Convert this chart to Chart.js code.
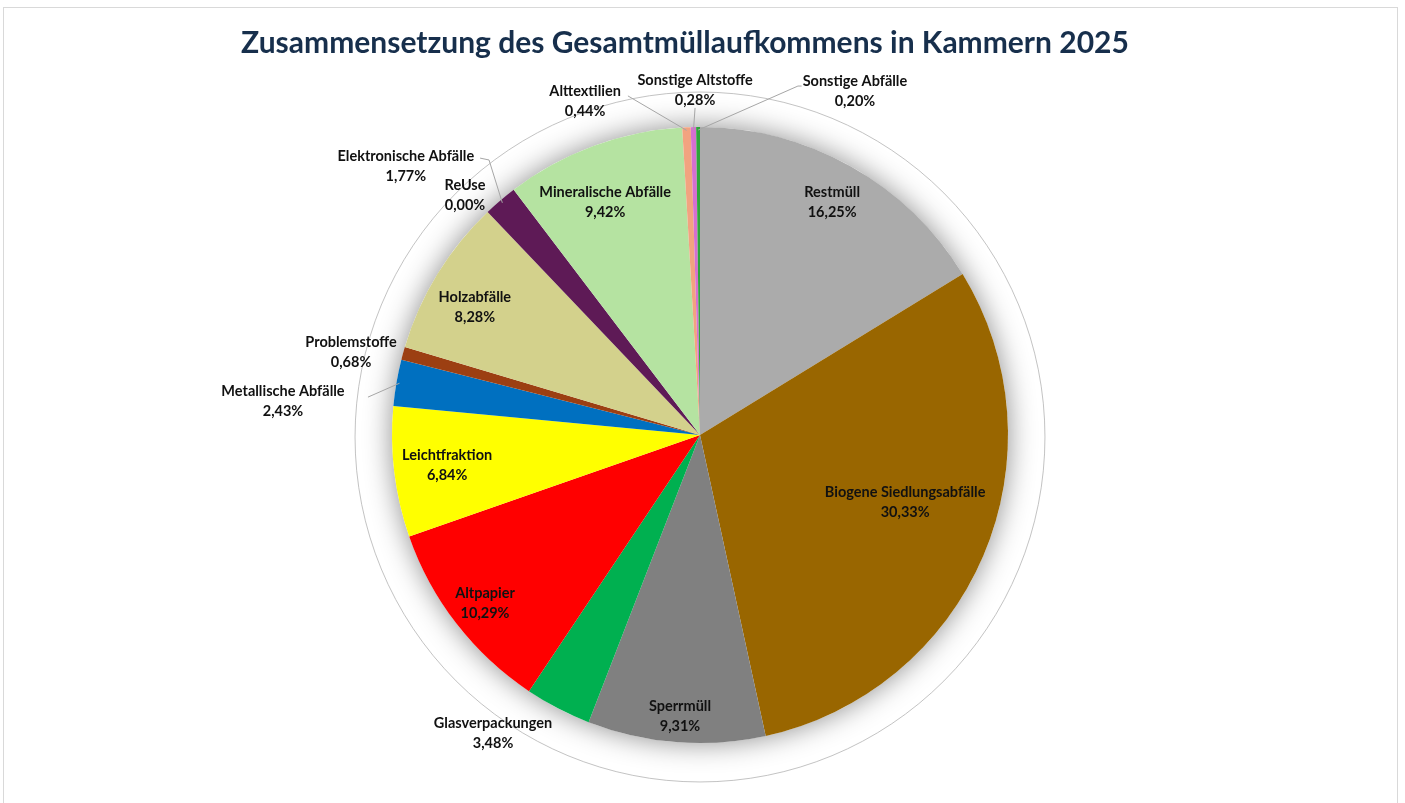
<!DOCTYPE html>
<html>
<head>
<meta charset="utf-8">
<script src="https://cdn.jsdelivr.net/npm/chart.js@4"></script>
<style>
  html, body { margin: 0; padding: 0; background: #ffffff; }
  #wrap { width: 1405px; height: 803px; position: relative; }
</style>
</head>
<body>
<div id="wrap"><canvas id="c" width="1405" height="803"></canvas></div>
<script>
// ---- data ----
const titleText = "Zusammensetzung des Gesamtmüllaufkommens in Kammern 2025";
const categories = [
  "Restmüll", "Biogene Siedlungsabfälle", "Sperrmüll", "Glasverpackungen",
  "Altpapier", "Leichtfraktion", "Metallische Abfälle", "Problemstoffe",
  "Holzabfälle", "ReUse", "Elektronische Abfälle", "Mineralische Abfälle",
  "Alttextilien", "Sonstige Altstoffe", "Sonstige Abfälle"
];
const shares = [16.25, 30.33, 9.31, 3.48, 10.29, 6.84, 2.43, 0.68, 8.28, 0.00, 1.77, 9.42, 0.44, 0.28, 0.20];
const colors = [
  "#ABABAB", "#996600", "#808080", "#00B050",
  "#FF0000", "#FFFF00", "#0070C0", "#9C3F12",
  "#D3D18C", "#7F7F7F", "#5E1A56", "#B5E3A1",
  "#F2A380", "#D56FD0", "#2EA43A"
];

// ---- label layout (relative to pie centre, in units of radius) ----
const labelAnchors = [
  [0.429, -0.756], [0.666, 0.218], [-0.065, 0.912], [-0.672, 0.968],
  [-0.698, 0.545], [-0.821, 0.097], [-1.354, -0.110], [-1.133, -0.269],
  [-0.731, -0.416], [-0.763, -0.779], [-0.955, -0.873], [-0.308, -0.756],
  [-0.373, -1.084], [-0.016, -1.120], [0.503, -1.117]
];
// leader line points (relative units)
const leaders = {
  6: [[-1.078, -0.123]],
  10: [[-0.714, -0.899], [-0.685, -0.893]],
  12: [[-0.234, -1.101]],
  13: [[-0.016, -1.062]],
  14: [[0.330, -1.133], [0.318, -1.133]]
};

function fmt(v) { return v.toFixed(2).replace('.', ',') + '%'; }

const decoPlugin = {
  id: 'deco',
  beforeDraw(chart) {
    const ctx = chart.ctx;
    ctx.save();
    ctx.fillStyle = '#ffffff';
    ctx.fillRect(0, 0, chart.width, chart.height);
    ctx.strokeStyle = '#D9D9D9';
    ctx.lineWidth = 1;
    ctx.strokeRect(3.5, 7.5, 1394, 820);
    // title
    ctx.fillStyle = '#172F4C';
    ctx.font = 'bold 30px Lato';
    ctx.textAlign = 'center';
    ctx.textBaseline = 'middle';
    ctx.fillText(titleText, 685, 43);
    ctx.restore();
  },
  beforeDatasetsDraw(chart) {
    const meta = chart.getDatasetMeta(0);
    const el = meta.data[0];
    const cx = el.x, cy = el.y, r = el.outerRadius;
    const ctx = chart.ctx;
    ctx.save();
    // faint outline of the shadow envelope
    ctx.strokeStyle = 'rgba(175,175,175,0.75)';
    ctx.lineWidth = 1;
    ctx.beginPath();
    ctx.arc(cx, cy + 2, r * 1.12, 0, Math.PI * 2);
    ctx.stroke();
    // soft shadow
    ctx.shadowColor = 'rgba(0,0,0,0.45)';
    ctx.shadowBlur = 28;
    ctx.fillStyle = '#ffffff';
    ctx.beginPath();
    ctx.arc(cx, cy, r, 0, Math.PI * 2);
    ctx.fill();
    ctx.restore();
  },
  afterDatasetsDraw(chart) {
    const meta = chart.getDatasetMeta(0);
    const ctx = chart.ctx;
    const el0 = meta.data[0];
    const cx = el0.x, cy = el0.y, r = el0.outerRadius;
    ctx.save();
    // leaders
    ctx.strokeStyle = '#A6A6A6';
    ctx.lineWidth = 1;
    Object.keys(leaders).forEach(k => {
      const i = +k;
      const el = meta.data[i];
      const mid = (el.startAngle + el.endAngle) / 2;
      const pts = leaders[k];
      ctx.beginPath();
      ctx.moveTo(cx + pts[0][0] * r, cy + pts[0][1] * r);
      for (let j = 1; j < pts.length; j++) ctx.lineTo(cx + pts[j][0] * r, cy + pts[j][1] * r);
      ctx.lineTo(cx + Math.cos(mid) * r * 0.99, cy + Math.sin(mid) * r * 0.99);
      ctx.stroke();
    });
    // labels
    ctx.fillStyle = '#111111';
    ctx.font = 'bold 14.5px Lato';
    ctx.textAlign = 'center';
    ctx.textBaseline = 'middle';
    categories.forEach((name, i) => {
      const x = cx + labelAnchors[i][0] * r;
      const y = cy + labelAnchors[i][1] * r;
      ctx.fillText(name, x, y - 9.5);
      ctx.fillText(fmt(shares[i]), x, y + 10);
    });
    ctx.restore();
  }
};

new Chart(document.getElementById('c'), {
  type: 'pie',
  data: {
    labels: categories,
    datasets: [{
      data: shares,
      backgroundColor: colors,
      borderWidth: 0
    }]
  },
  options: {
    responsive: false,
    animation: false,
    layout: { padding: { top: 127, bottom: 60, left: 0, right: 5 } },
    plugins: {
      legend: { display: false },
      tooltip: { enabled: false },
      title: { display: false }
    }
  },
  plugins: [decoPlugin]
});
</script>
</body>
</html>
